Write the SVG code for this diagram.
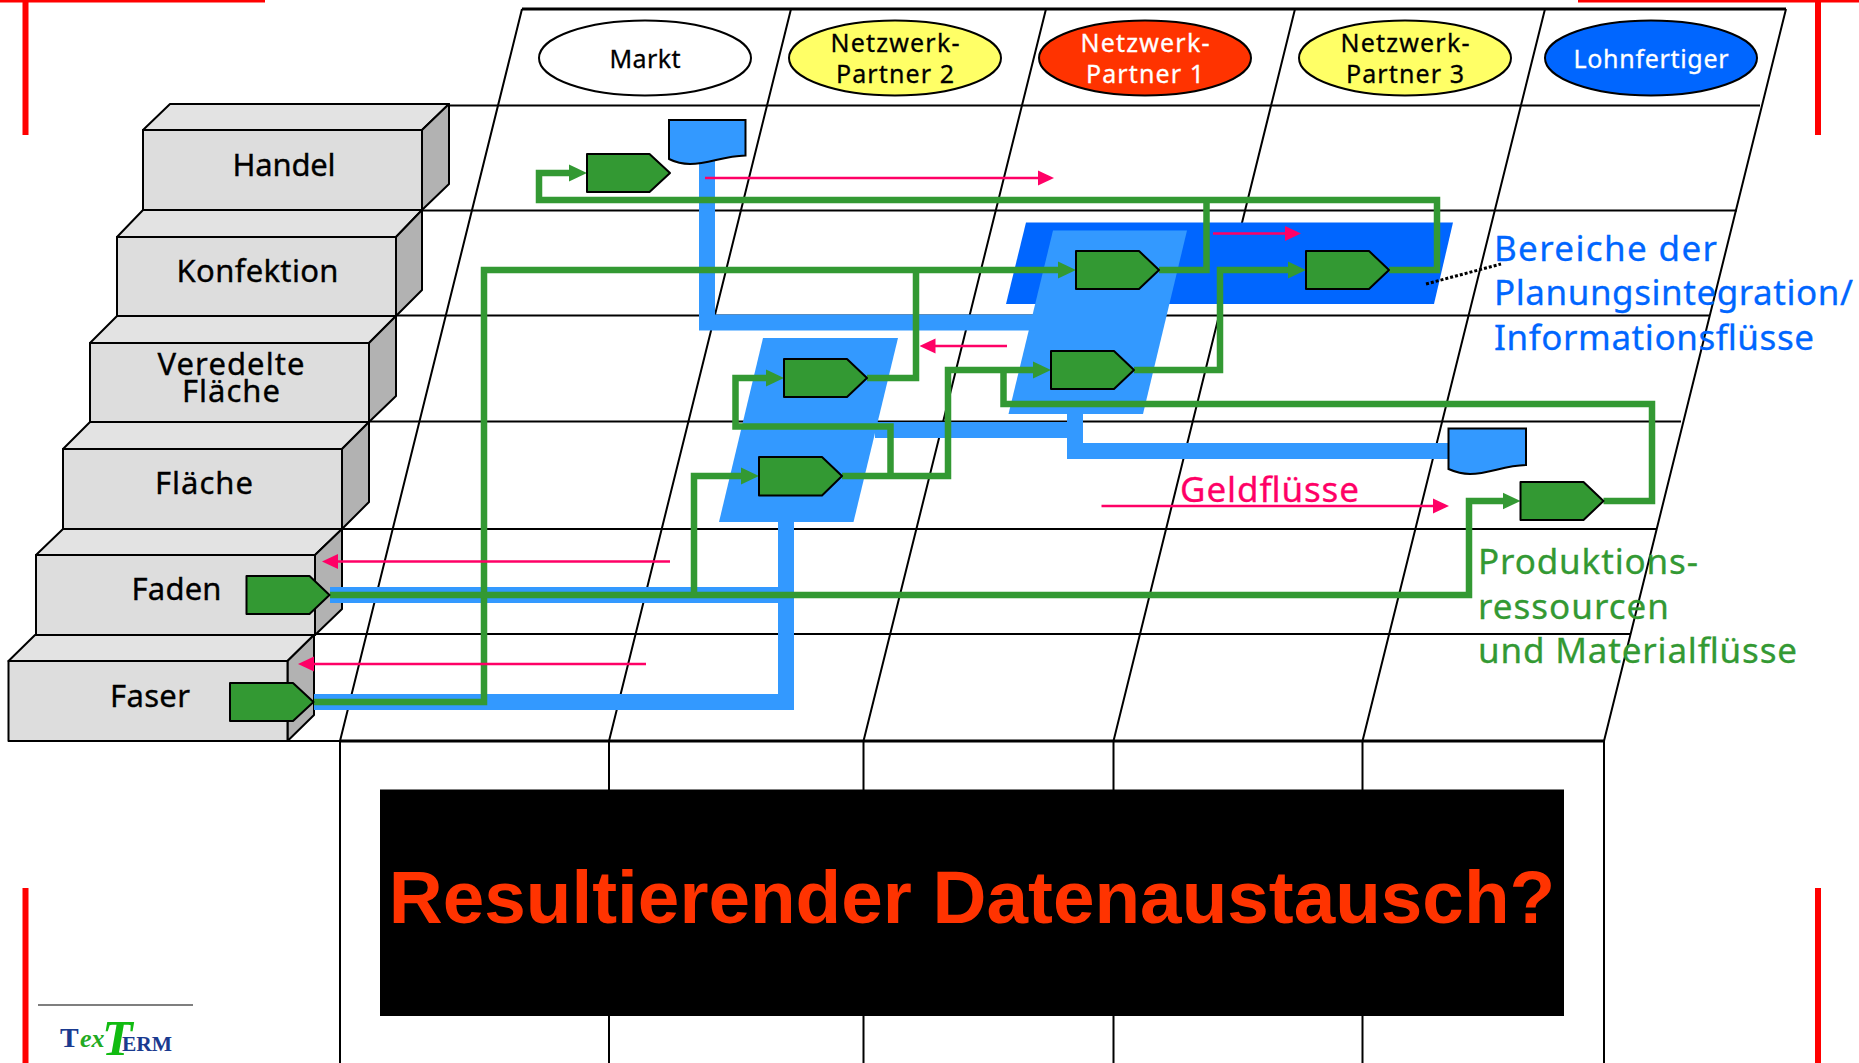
<svg xmlns="http://www.w3.org/2000/svg" width="1859" height="1063" viewBox="0 0 1859 1063">
<style>
text{font-family:"Noto Sans","Liberation Sans",sans-serif}
.grid{stroke:#000;stroke-width:2;fill:none}
.heavy{stroke:#000;stroke-width:3;fill:none}
.front{fill:#ddd;stroke:#000;stroke-width:2;stroke-linejoin:round}
.top{fill:#e3e3e3;stroke:#000;stroke-width:2;stroke-linejoin:round}
.side{fill:#b2b2b2;stroke:#000;stroke-width:2;stroke-linejoin:round}
.lv{font-size:31px;text-anchor:middle;fill:#000;stroke:#000;stroke-width:.35}
.el{font-size:25px;text-anchor:middle}
.k{fill:#000;stroke:#000;stroke-width:.3}
.w{fill:#fff;stroke:#fff;stroke-width:.3}
.pent{fill:#339933;stroke:#000;stroke-width:2;stroke-linejoin:round}
.doc{fill:#3399ff;stroke:#000;stroke-width:2}
.bf{fill:none;stroke:#3399ff;stroke-width:16;stroke-linejoin:miter}
.gf{fill:none;stroke:#339933;stroke-width:6.5;stroke-linejoin:miter}
.gfa{fill:none;stroke:#339933;stroke-width:6.5;stroke-linejoin:miter;marker-end:url(#ga)}
.pf{fill:none;stroke:#ff0066;stroke-width:2.5;marker-end:url(#pa)}
.blab{font-size:35px;fill:#0066ff;stroke:#0066ff;stroke-width:.3}
.glab{font-size:35px;fill:#339933;stroke:#339933;stroke-width:.3}
.plab{font-size:35px;fill:#ff0066;stroke:#ff0066;stroke-width:.3}
.red{fill:#ff0000}
</style>
<defs>
<marker id="ga" markerUnits="userSpaceOnUse" markerWidth="18" markerHeight="18" refX="8" refY="9" orient="auto"><path d="M0,0.5 L18,9 L0,17.5Z" fill="#339933"/></marker>
<marker id="pa" markerUnits="userSpaceOnUse" markerWidth="16" markerHeight="16" refX="8" refY="8" orient="auto"><path d="M0,0.5 L16,8 L0,15.5Z" fill="#ff0066"/></marker>
</defs>
<rect width="1859" height="1063" fill="#fff"/>
<g id="grid">
<path class="heavy" d="M522,9H1786"/>
<path class="grid" d="M522,9L340,741M791,9L609,741M1046,9L863.500,741M1295,9L1113.500,741M1545,9L1362.500,741M1786,9L1604,741"/>
<path class="grid" d="M448,105.500H1760M422,210.500H1737M395,315.500H1709M369,421.500H1681M341,529H1657M314,634H1631M288,741H340"/>
<path class="heavy" d="M340,741H1604"/>
<path class="grid" d="M340,741V1063M609,741V1063M863.500,741V1063M1113.500,741V1063M1362.500,741V1063M1604,741V1063"/>
</g>
<g id="level-handel">
<polygon class="top" points="143,130 170,104 449,104 422,130"/>
<polygon class="side" points="422,130 449,104 449,184 422,210"/>
<rect class="front" x="143" y="130" width="279" height="80"/>
<text class="lv" x="284" y="175.500" textLength="103">Handel</text>
</g>
<g id="level-konfektion">
<polygon class="top" points="117,237 143,210 422,210 396,237"/>
<polygon class="side" points="396,237 422,210 422,290 396,316"/>
<rect class="front" x="117" y="237" width="279" height="79"/>
<text class="lv" x="257.500" y="281.500" textLength="162">Konfektion</text>
</g>
<g id="level-veredelte-flaeche">
<polygon class="top" points="90,343 117,316 396,316 369,343"/>
<polygon class="side" points="369,343 396,316 396,396 369,422"/>
<rect class="front" x="90" y="343" width="279" height="79"/>
<text class="lv" x="231" y="375" textLength="147">Veredelte</text>
<text class="lv" x="231" y="402" textLength="98">Fläche</text>
</g>
<g id="level-flaeche">
<polygon class="top" points="63,449 90,422 369,422 342,449"/>
<polygon class="side" points="342,449 369,422 369,502 342,529"/>
<rect class="front" x="63" y="449" width="279" height="80"/>
<text class="lv" x="204" y="494" textLength="98">Fläche</text>
</g>
<g id="level-faden">
<polygon class="top" points="36,555 63,529 342,529 315,555"/>
<polygon class="side" points="315,555 342,529 342,609 315,635"/>
<rect class="front" x="36" y="555" width="279" height="80"/>
<text class="lv" x="176.500" y="600" textLength="90">Faden</text>
</g>
<g id="level-faser">
<polygon class="top" points="8.500,661 35,635 314,635 287.500,661"/>
<polygon class="side" points="287.500,661 314,635 314,715 287.500,741"/>
<rect class="front" x="8.500" y="661" width="279" height="80"/>
<text class="lv" x="150" y="707" textLength="80">Faser</text>
</g>
<g id="partner-markt"><ellipse cx="645" cy="58" rx="106" ry="37.500" fill="#fff" stroke="#000" stroke-width="2"/><text class="el k" x="645" y="68" textLength="71">Markt</text></g>
<g id="partner-2"><ellipse cx="895" cy="58" rx="106" ry="37.500" fill="#ffff66" stroke="#000" stroke-width="2"/><text class="el k" x="895" y="52" textLength="129">Netzwerk-</text><text class="el k" x="895" y="83" textLength="118">Partner 2</text></g>
<g id="partner-1"><ellipse cx="1145" cy="58" rx="106" ry="37.500" fill="#ff3300" stroke="#000" stroke-width="2"/><text class="el w" x="1145" y="52" textLength="129">Netzwerk-</text><text class="el w" x="1145" y="83" textLength="118">Partner 1</text></g>
<g id="partner-3"><ellipse cx="1405" cy="58" rx="106" ry="37.500" fill="#ffff66" stroke="#000" stroke-width="2"/><text class="el k" x="1405" y="52" textLength="129">Netzwerk-</text><text class="el k" x="1405" y="83" textLength="118">Partner 3</text></g>
<g id="partner-lohn"><ellipse cx="1651" cy="58" rx="106" ry="37.500" fill="#0066ff" stroke="#000" stroke-width="2"/><text class="el w" x="1651" y="68" textLength="155">Lohnfertiger</text></g>
<g id="area-planung"><polygon points="1026,222.500 1453,222.500 1434,304 1006,304" fill="#0066ff"/></g>
<g id="area-n1"><polygon points="1053,230.500 1187,230.500 1143,414 1008.500,414" fill="#3399ff"/></g>
<g id="area-n2"><polygon points="763,338 898,338 853.500,522 719,522" fill="#3399ff"/></g>
<g id="connectors">
<path class="bf" d="M707,160V322.500H1035"/>
<path class="bf" d="M875,430H1075"/>
<path class="bf" d="M1075,414V451H1449"/>
<path class="bf" d="M786,522V702H314"/>
<path class="bf" d="M786,595H330"/>
<path class="gfa" d="M1389,270H1437V200H539V173H577"/>
<path class="gf" d="M1159,270H1206.500V200"/>
<path class="gfa" d="M314,702H484V270H1066"/>
<path class="gf" d="M867,378H916V270"/>
<path class="gfa" d="M1134,370H1220V270H1296"/>
<path class="gfa" d="M842,476H948V370H1041"/>
<path class="gfa" d="M890.500,476V426.500H735.500V378H774"/>
<path class="gfa" d="M330,595H1469V501H1510.500"/>
<path class="gfa" d="M694,595V476H749"/>
<path class="gf" d="M1603.500,501H1652V404H1003.500V370"/>
<path class="pf" d="M705,178H1046"/>
<path class="pf" d="M1213,233.500H1293"/>
<path class="pf" d="M1007,346H927.500"/>
<path class="pf" d="M1101.500,506H1441"/>
<path class="pf" d="M670,561.500H330"/>
<path class="pf" d="M646,664H306"/>
<path d="M1426,284L1501,264" fill="none" stroke="#000" stroke-width="3" stroke-dasharray="3 2"/>
</g>
<g id="doc-handel"><path class="doc" d="M669,120H745.500V155.500C722,156 710,164 690,164C680,164 673,161 669,159Z"/></g>
<g id="doc-lohn"><path class="doc" d="M1448.500,428.500H1526V465C1503,465.500 1490,474 1470,474C1460,474 1453,471 1448.500,469Z"/></g>
<g id="proc-1"><polygon class="pent" points="587,154 649.500,154 670,173 649.500,192 587,192"/></g>
<g id="proc-2"><polygon class="pent" points="1076,251 1139,251 1159,270 1139,289 1076,289"/></g>
<g id="proc-3"><polygon class="pent" points="1306,251 1369,251 1389,270 1369,289 1306,289"/></g>
<g id="proc-4"><polygon class="pent" points="1051,351 1114,351 1134,370 1114,389 1051,389"/></g>
<g id="proc-5"><polygon class="pent" points="784,359 847,359 867,378 847,397 784,397"/></g>
<g id="proc-6"><polygon class="pent" points="759,457 822,457 842,476 822,495.500 759,495.500"/></g>
<g id="proc-7"><polygon class="pent" points="1520.500,482 1583.500,482 1603.500,501 1583.500,520 1520.500,520"/></g>
<g id="proc-8"><polygon class="pent" points="246.500,576 309.500,576 329.500,595 309.500,614 246.500,614"/></g>
<g id="proc-9"><polygon class="pent" points="230,683 293,683 313.500,702 293,721 230,721"/></g>
<g id="labels">
<text class="blab" x="1494" y="261" textLength="223">Bereiche der</text>
<text class="blab" x="1494" y="305" textLength="359">Planungsintegration/</text>
<text class="blab" x="1494" y="350" textLength="320">Informationsflüsse</text>
<text class="plab" x="1180" y="502" textLength="179">Geldflüsse</text>
<text class="glab" x="1478" y="574" textLength="220">Produktions-</text>
<text class="glab" x="1478" y="619" textLength="191">ressourcen</text>
<text class="glab" x="1478" y="663" textLength="319">und Materialflüsse</text>
</g>
<g id="banner">
<rect x="380" y="789.500" width="1184" height="226.500" fill="#000"/>
<text x="972" y="923" text-anchor="middle" font-size="74.700" font-weight="700" fill="#ff3300" style="font-family:'Liberation Sans',Arial,sans-serif">Resultierender Datenaustausch?</text>
</g>
<g id="crop-marks">
<rect class="red" x="0" y="0" width="265" height="2.500"/>
<rect class="red" x="1578" y="0" width="281" height="2.500"/>
<rect class="red" x="22.500" y="0" width="6" height="135"/>
<rect class="red" x="1815" y="0" width="6" height="135"/>
<rect class="red" x="22.500" y="888" width="6" height="175"/>
<rect class="red" x="1815" y="888" width="6" height="175"/>
</g>
<g id="logo">
<path d="M38,1005H193" stroke="#555" stroke-width="1.500"/>
<text style="font-family:'Liberation Serif',serif" font-weight="700"><tspan x="60" y="1047" font-size="28" fill="#1a3a8f">T</tspan><tspan x="80" y="1047" font-size="26" font-style="italic" fill="#22aa22">ex</tspan><tspan x="102" y="1055" font-size="50" font-style="italic" fill="#11bb11">T</tspan><tspan x="122" y="1051" font-size="21.500" fill="#1a3a8f">ERM</tspan></text>
</g>
</svg>
